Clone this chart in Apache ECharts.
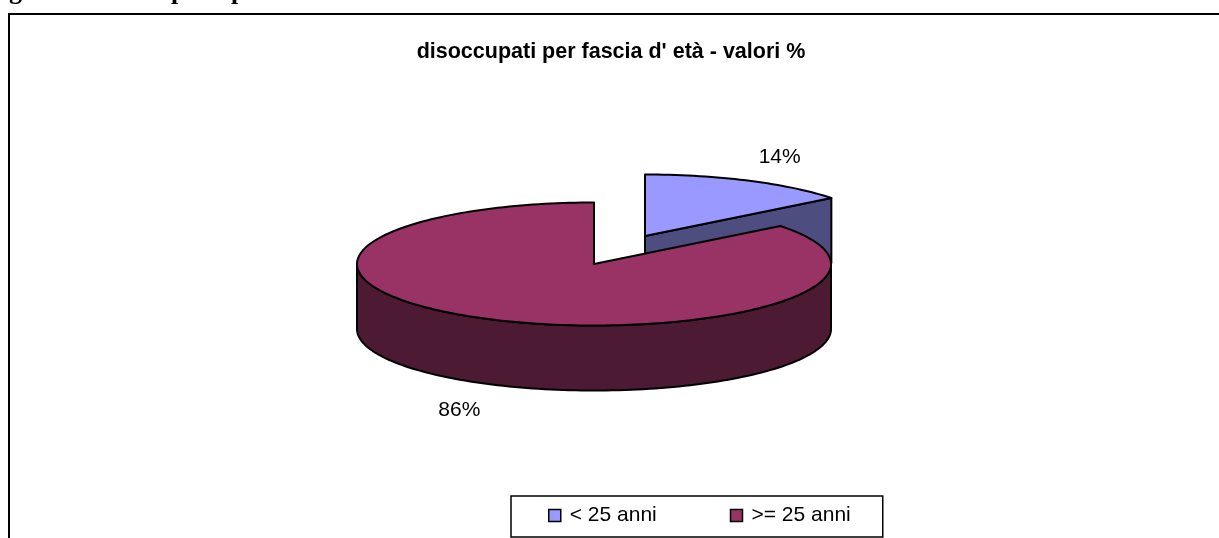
<!DOCTYPE html>
<html>
<head>
<meta charset="utf-8">
<style>html,body{margin:0;padding:0;background:#fff;overflow:hidden}#c{width:1219px;height:538px}</style>
<script src="https://cdn.jsdelivr.net/npm/echarts@6/dist/echarts.min.js"></script>
</head>
<body>
<div id="c"></div>
<script>
const categories = ['< 25 anni', '>= 25 anni'];
const values = [14.4, 85.6];
const titleText = "disoccupati per fascia d' età - valori %";

const topColors = ['#9999ff', '#993366'];
const sideColors = ['#4d4d80', '#4d1a33'];
const sans = '"Liberation Sans", Arial, sans-serif';
const pie = { cx: 594, cy: 264, rx: 237, ry: 61.5, depth: 65 };
const explode = [{ dx: 51, dy: -28 }, { dx: 0, dy: 0 }];

const total = values.reduce((a, b) => a + b, 0);
const rad = d => d * Math.PI / 180;

function renderSlice(index) {
  return function () {
    const startDeg = values.slice(0, index).reduce((a, b) => a + b, 0) / total * 360;
    const endDeg = startDeg + values[index] / total * 360;
    const cx = pie.cx + explode[index].dx;
    const cy = pie.cy + explode[index].dy;
    const pt = (deg, dz) => [cx + pie.rx * Math.sin(rad(deg)), cy - pie.ry * Math.cos(rad(deg)) + (dz || 0)];
    const arc = (a, b, dz) => {
      const pts = [];
      const n = Math.max(2, Math.ceil(Math.abs(b - a) / 1.5));
      for (let i = 0; i <= n; i++) pts.push(pt(a + (b - a) * i / n, dz));
      return pts;
    };
    const stroke = { stroke: '#000', lineWidth: 2, lineJoin: 'round' };
    const children = [];
    const apex = [cx, cy];
    const face = (deg) => ({
      type: 'polygon',
      shape: { points: [apex, pt(deg), pt(deg, pie.depth), [cx, cy + pie.depth]] },
      style: Object.assign({ fill: sideColors[index] }, stroke)
    });
    if (Math.sin(rad(startDeg)) < -1e-6) children.push(face(startDeg));
    if (Math.sin(rad(endDeg)) > 1e-6) children.push(face(endDeg));
    const wA = Math.max(startDeg, 90), wB = Math.min(endDeg, 270);
    if (wB > wA) {
      children.push({
        type: 'polygon',
        shape: { points: arc(wA, wB).concat(arc(wB, wA, pie.depth)) },
        style: Object.assign({ fill: sideColors[index] }, stroke)
      });
    }
    children.push({
      type: 'polygon',
      shape: { points: [apex].concat(arc(startDeg, endDeg)) },
      style: Object.assign({ fill: topColors[index] }, stroke)
    });
    const mid = (startDeg + endDeg) / 2;
    const below = Math.cos(rad(mid)) < 0;
    children.push({
      type: 'text',
      z2: 10,
      style: {
        text: Math.round(values[index] / total * 100) + '%',
        x: cx + 1.3 * pie.rx * Math.sin(rad(mid)),
        y: cy - 1.45 * pie.ry * Math.cos(rad(mid)) + (below ? pie.depth : 0) + 1,
        fill: '#000',
        font: '21px ' + sans,
        align: 'center',
        verticalAlign: 'middle'
      }
    });
    return { type: 'group', children };
  };
}

const chart = echarts.init(document.getElementById('c'), null, { renderer: 'canvas' });
chart.setOption({
  animation: false,
  backgroundColor: '#fff',
  title: {
    text: titleText,
    left: 611,
    top: 41,
    textAlign: 'center',
    padding: 0,
    textStyle: { fontFamily: sans, fontWeight: 'bold', fontSize: 21.5, color: '#000' }
  },
  legend: {
    data: categories,
    left: 511,
    top: 496,
    orient: 'horizontal',
    padding: [9, 32, 11, 37],
    itemGap: 73,
    itemWidth: 12,
    itemHeight: 12,
    icon: 'rect',
    borderColor: '#000',
    borderWidth: 1.5,
    backgroundColor: '#fff',
    textStyle: { fontFamily: sans, fontSize: 21, color: '#000', padding: [0, 0, 0, 4] },
    itemStyle: { borderColor: '#000', borderWidth: 1.5 }
  },
  graphic: [
    { type: 'rect', silent: true, z: -1, shape: { x: 9, y: 14, width: 1300, height: 600 },
      style: { fill: '#fff', stroke: '#000', lineWidth: 2 } },
    { type: 'text', silent: true, style: { text: 'g', x: 9, y: 5, fill: '#000', font: 'bold 26px "Liberation Serif", serif', verticalAlign: 'bottom' } },
    { type: 'text', silent: true, style: { text: 'p', x: 171, y: 5, fill: '#000', font: 'bold 26px "Liberation Serif", serif', verticalAlign: 'bottom' } },
    { type: 'text', silent: true, style: { text: 'p', x: 231, y: 5, fill: '#000', font: 'bold 26px "Liberation Serif", serif', verticalAlign: 'bottom' } }
  ],
  series: categories.map((name, i) => ({
    type: 'custom',
    name,
    coordinateSystem: 'none',
    clip: false,
    itemStyle: { color: topColors[i] },
    data: [values[i]],
    renderItem: renderSlice(i)
  }))
});
</script>
</body>
</html>
